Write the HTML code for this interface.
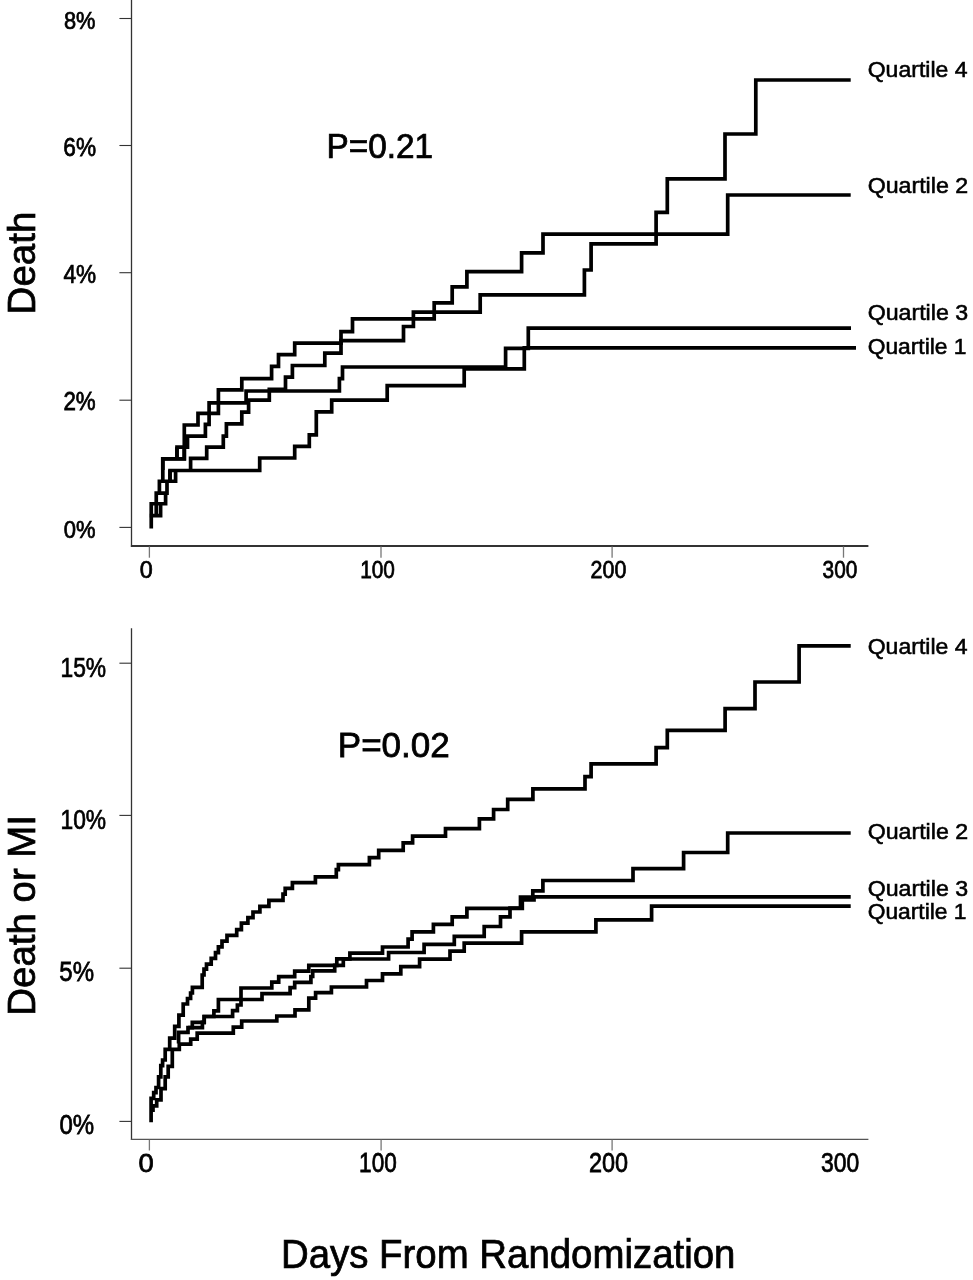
<!DOCTYPE html><html><head><meta charset="utf-8"><style>html,body{margin:0;padding:0;background:#fff;overflow:hidden}svg{display:block;will-change:transform} text{fill:#000;stroke:#000;stroke-width:0.75px}</style></head><body><svg width="973" height="1280" viewBox="0 0 973 1280" font-family="Liberation Sans, sans-serif">
<rect width="973" height="1280" fill="#fff"/>
<line x1="131.5" y1="0" x2="131.5" y2="546.9" stroke="#333" stroke-width="1.3"/>
<line x1="130.9" y1="546" x2="868.4" y2="546" stroke="#333" stroke-width="1.8"/>
<line x1="119.4" y1="18.5" x2="131" y2="18.5" stroke="#333" stroke-width="1.1"/>
<line x1="119.4" y1="145.5" x2="131" y2="145.5" stroke="#333" stroke-width="1.1"/>
<line x1="119.4" y1="272.7" x2="131" y2="272.7" stroke="#333" stroke-width="1.1"/>
<line x1="119.4" y1="400.2" x2="131" y2="400.2" stroke="#333" stroke-width="1.1"/>
<line x1="119.4" y1="527.4" x2="131" y2="527.4" stroke="#333" stroke-width="1.1"/>
<line x1="149.4" y1="546.5" x2="149.4" y2="557.7" stroke="#777" stroke-width="1.3"/>
<line x1="381" y1="546.5" x2="381" y2="557.7" stroke="#777" stroke-width="1.3"/>
<line x1="612.1" y1="546.5" x2="612.1" y2="557.7" stroke="#777" stroke-width="1.3"/>
<line x1="843.5" y1="546.5" x2="843.5" y2="557.7" stroke="#777" stroke-width="1.3"/>
<text transform="translate(63.92,29.05) scale(0.8857,1)" font-size="24.65">8%</text>
<text transform="translate(63.37,155.65) scale(0.8884,1)" font-size="25.49">6%</text>
<text transform="translate(63.44,282.57) scale(0.9040,1)" font-size="25.00">4%</text>
<text transform="translate(63.38,409.97) scale(0.8903,1)" font-size="25.11">2%</text>
<text transform="translate(63.72,537.56) scale(0.9176,1)" font-size="23.94">0%</text>
<text transform="translate(139.67,578.16) scale(0.9646,1)" font-size="24.23">0</text>
<text transform="translate(360.14,578.15) scale(0.8405,1)" font-size="24.79">100</text>
<text transform="translate(590.53,578.15) scale(0.8755,1)" font-size="24.51">200</text>
<text transform="translate(822.57,578.15) scale(0.8495,1)" font-size="24.51">300</text>
<line x1="131.5" y1="628.2" x2="131.5" y2="1139.9" stroke="#333" stroke-width="1.3"/>
<line x1="130.9" y1="1139.3" x2="868.4" y2="1139.3" stroke="#555" stroke-width="1.2"/>
<line x1="119.4" y1="663.2" x2="131" y2="663.2" stroke="#333" stroke-width="1.1"/>
<line x1="119.4" y1="815.4" x2="131" y2="815.4" stroke="#333" stroke-width="1.1"/>
<line x1="119.4" y1="968.2" x2="131" y2="968.2" stroke="#333" stroke-width="1.1"/>
<line x1="119.4" y1="1121.4" x2="131" y2="1121.4" stroke="#333" stroke-width="1.1"/>
<line x1="149.4" y1="1139.8" x2="149.4" y2="1150.5" stroke="#777" stroke-width="1.3"/>
<line x1="381.1" y1="1139.8" x2="381.1" y2="1150.5" stroke="#777" stroke-width="1.3"/>
<line x1="612.1" y1="1139.8" x2="612.1" y2="1150.5" stroke="#777" stroke-width="1.3"/>
<text transform="translate(60.49,676.72) scale(0.8287,1)" font-size="27.52">15%</text>
<text transform="translate(60.49,828.93) scale(0.8303,1)" font-size="27.46">10%</text>
<text transform="translate(59.34,981.42) scale(0.8682,1)" font-size="27.66">5%</text>
<text transform="translate(59.44,1134.43) scale(0.8789,1)" font-size="27.32">0%</text>
<text transform="translate(138.61,1171.64) scale(1.0618,1)" font-size="25.77">0</text>
<text transform="translate(359.11,1171.83) scale(0.8347,1)" font-size="27.04">100</text>
<text transform="translate(589.03,1171.83) scale(0.8660,1)" font-size="27.04">200</text>
<text transform="translate(820.98,1171.93) scale(0.8555,1)" font-size="26.76">300</text>
<text transform="translate(326.53,157.95) scale(0.9588,1)" font-size="34.79">P=0.21</text>
<text transform="translate(337.80,757.16) scale(1.0238,1)" font-size="34.23">P=0.02</text>
<text transform="translate(34.90,314.38) rotate(-90) scale(0.9846,1)" font-size="39.10">Death</text>
<text transform="translate(34.90,1015.67) rotate(-90) scale(0.9830,1)" font-size="39.10">Death or MI</text>
<text transform="translate(280.93,1267.80) scale(0.9607,1)" font-size="39.97">Days From Randomization</text>
<text transform="translate(867.66,77.30) scale(1.0511,1)" font-size="21.93" style="stroke-width:0.55px">Quartile 4</text>
<text transform="translate(867.66,193.10) scale(1.0706,1)" font-size="21.66" style="stroke-width:0.55px">Quartile 2</text>
<text transform="translate(867.66,319.50) scale(1.0842,1)" font-size="21.38" style="stroke-width:0.55px">Quartile 3</text>
<text transform="translate(867.67,353.70) scale(1.0521,1)" font-size="21.66" style="stroke-width:0.55px">Quartile 1</text>
<text transform="translate(867.66,653.60) scale(1.0380,1)" font-size="22.21" style="stroke-width:0.55px">Quartile 4</text>
<text transform="translate(867.66,838.80) scale(1.0505,1)" font-size="22.07" style="stroke-width:0.55px">Quartile 2</text>
<text transform="translate(867.66,896.20) scale(1.0773,1)" font-size="21.52" style="stroke-width:0.55px">Quartile 3</text>
<text transform="translate(867.67,918.50) scale(1.0521,1)" font-size="21.66" style="stroke-width:0.55px">Quartile 1</text>
<path d="M850.7,80.0 H755.8 V134.0 H725.0 V178.9 H667.3 V212.3 H656.1 V243.9 H591.1 V270.0 H584.4 V294.9 H480.2 V312.2 H413.4 V326.5 H403.5 V340.7 H341.0 V353.2 H324.8 V365.5 H292.4 V377.1 H285.5 V389.4 H269.3 V400.2 H248.6 V412.1 H241.8 V423.8 H226.4 V436.1 H223.3 V447.2 H206.7 V458.3 H190.6 V470.6" fill="none" stroke="#000" stroke-width="3.7" stroke-linejoin="miter" stroke-linecap="butt"/>
<path d="M850.7,195.0 H727.7 V234.2 H543.0 V252.9 H521.6 V271.6 H466.9 V286.9 H452.2 V302.9 H434.2 V318.9 H352.5 V331.6 H341.0 V343.2 H294.7 V354.7 H278.5 V366.3 H271.6 V378.6 H241.8 V389.9 H218.4 V413.3 H198.0 V425.0 H184.3 V458.8 H162.8 V470.0" fill="none" stroke="#000" stroke-width="3.7" stroke-linejoin="miter" stroke-linecap="butt"/>
<path d="M851.0,328.1 H528.3 V348.3 H505.6 V367.0 H342.5 V378.6 H339.4 V391.0 H246.1 V402.8 H209.1 V424.4 H205.4 V436.1 H187.5 V447.2 H177.0 V458.9" fill="none" stroke="#000" stroke-width="3.7" stroke-linejoin="miter" stroke-linecap="butt"/>
<path d="M856.0,347.9 H524.3 V368.9 H464.2 V385.7 H387.2 V400.2 H331.7 V411.8 H316.3 V434.9 H309.3 V446.4 H294.7 V458.0 H259.7 V470.5 H170.0 V481.2" fill="none" stroke="#000" stroke-width="3.7" stroke-linejoin="miter" stroke-linecap="butt"/>
<path d="M151.25,528.6 V503.75 H165.6 V493.1" fill="none" stroke="#000" stroke-width="3.7" stroke-linejoin="miter" stroke-linecap="butt"/>
<path d="M149.8,515.6 H160.6 V503.75" fill="none" stroke="#000" stroke-width="3.7" stroke-linejoin="miter" stroke-linecap="butt"/>
<path d="M156.25,515.6 V493.1 H167 V481.25" fill="none" stroke="#000" stroke-width="3.7" stroke-linejoin="miter" stroke-linecap="butt"/>
<path d="M159.4,493.1 V481.25 H175.6 V470" fill="none" stroke="#000" stroke-width="3.7" stroke-linejoin="miter" stroke-linecap="butt"/>
<path d="M170,481.25 V470" fill="none" stroke="#000" stroke-width="3.7" stroke-linejoin="miter" stroke-linecap="butt"/>
<path d="M162.8,481.25 V458.75 H184.3 V447.1" fill="none" stroke="#000" stroke-width="3.7" stroke-linejoin="miter" stroke-linecap="butt"/>
<path d="M176.9,458.75 V447.1" fill="none" stroke="#000" stroke-width="3.7" stroke-linejoin="miter" stroke-linecap="butt"/>
<path d="M850.7,645.9 H799.1 V682 H755 V708.7 H725.1 V730.4 H667.3 V747.7 H656.1 V763.8 H591.1 V776.6 H585 V788.9 H532.9 V799.3 H507.7 V809.5 H493.6 V818.8 H479.4 V828.7 H445.5 V836.2 H412.6 V842.9 H403.2 V850.4 H378.7 V857.7 H369.4 V864.6 H338.4 V869.6 H336.3 V876.8 H315.4 V882.6 H292.4 V888.3 H285.2 V894.1 H283 V900.3 H268.9 V906.3 H259.9 V912 H253 V917.7 H247.9 V923.2 H241.4 V929.6 H236.7 V935.4 H227 V941.2 H222 V946.9 H218.4 V952.7 H215.5 V958.4 H211.2 V964.2 H206.5 V969.2 H204 V975 H202.2 V987.3 H192.4 V993 H190.6 V998.5 H187.5 V1004 H183.2 V1015.2 H178.9 V1026.3 H174.7 V1038.2 H169.7 V1049.3 H165.2 V1060 H162.6 V1065.6 H160.8 V1076.8 H158.6 V1087.5 H156 V1092.7 H153.7 V1098.3 H151.1 V1122.3" fill="none" stroke="#000" stroke-width="3.7" stroke-linejoin="miter" stroke-linecap="butt"/>
<path d="M850.7,833 H727.7 V852.5 H683.6 V868.6 H633 V880.5 H542.9 V890.9 H532.8 V897 H520.5 V908 H510 V916.8 H500.5 V926.5 H484.2 V936.4 H454.3 V944.4 H424.1 V952.5 H388.6 V959 H343.3 V965.4 H334.7 V970.8 H312.7 V976.5 H310.9 V982.3 H294.7 V987.7 H290.1 V993.7 H262 V999.5 H241 V1005 H237.4 V1010.6 H232.6 V1016.5 H204.2 V1022.3 H192.3 V1027.7 H188 V1032.4 H178.6 V1043.4" fill="none" stroke="#000" stroke-width="3.7" stroke-linejoin="miter" stroke-linecap="butt"/>
<path d="M850.7,896.8 H534 V899.8 H522.3 V908.4 H466.9 V916.9 H452.2 V924.4 H433.4 V931.9 H412.1 V939.1 H408.1 V947 H382.5 V953.1 H349.9 V958.8 H336.8 V965.4 H308.8 V971.2 H294.7 V976.7 H278.7 V982.2 H271.8 V988 H241 V999.5 H218.4 V1010.8 H213.9 V1016.5 H204.2 V1022.3 H202.4 V1027.7 H188" fill="none" stroke="#000" stroke-width="3.7" stroke-linejoin="miter" stroke-linecap="butt"/>
<path d="M850.7,906.1 H651.6 V919.8 H595.9 V931.9 H521.6 V943.1 H464.2 V951.1 H450 V959.1 H419.6 V966.6 H400.8 V973.8 H382.5 V980.5 H366.5 V987 H331.4 V992.7 H315.6 V998.1 H308.8 V1009.8 H295 V1016 H276.8 V1021 H241.7 V1027.2 H233.3 V1033.1 H197.2 V1039.2 H190.7 V1044.2 H179.3 V1049.3 H172.3 V1066.4 H168.2 V1076.8 H165.2 V1088.6 H161 V1099.8 H156.7 V1105.8 H153 V1112" fill="none" stroke="#000" stroke-width="3.7" stroke-linejoin="miter" stroke-linecap="butt"/>
</svg></body></html>
